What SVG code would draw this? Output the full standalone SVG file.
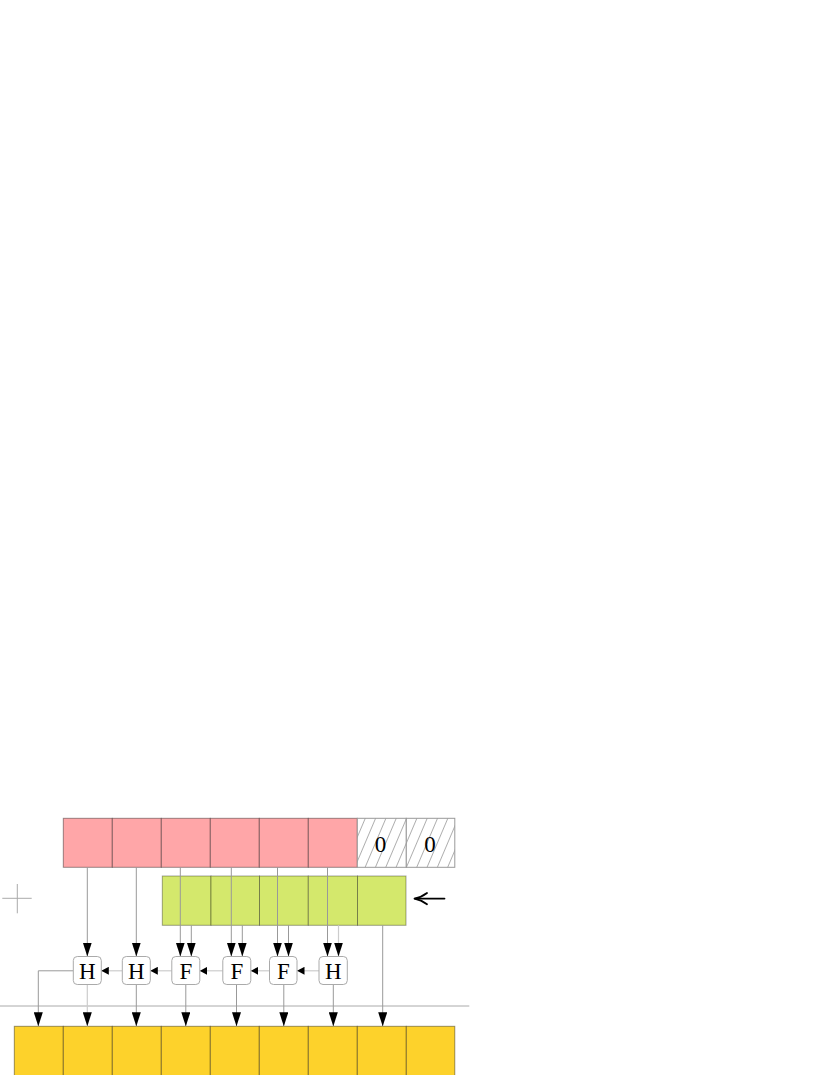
<svg xmlns="http://www.w3.org/2000/svg" width="830" height="1075" viewBox="0 0 830 1075">
<style>
.red{fill:#FFA6A8;stroke:#000;stroke-opacity:0.4;stroke-width:1}
.grn{fill:#D4E86C;stroke:#000;stroke-opacity:0.35;stroke-width:1}
.yel{fill:#FDD22B;stroke:#000;stroke-opacity:0.4;stroke-width:1}
.hat{fill:url(#hatch);stroke:#999;stroke-width:1}
.node rect{fill:#fff;stroke:#aaa;stroke-width:1}
.lbl{font-family:"Liberation Serif","DejaVu Serif",serif;font-size:23px;fill:#000;text-anchor:middle}
.c{fill:none;stroke:#999;stroke-width:1}
.cl{fill:none;stroke:#ccc;stroke-width:1.2}
.v{marker-end:url(#ahv)}
.h{marker-end:url(#ahh)}
</style>
<defs>
<pattern id="hatch" patternUnits="userSpaceOnUse" width="9.5" height="9.5" patternTransform="rotate(23)">
<rect width="9.5" height="9.5" fill="#fff"/>
<line x1="0" y1="0" x2="0" y2="9.5" stroke="#555" stroke-width="0.9"/>
</pattern>
<marker id="ahv" markerUnits="userSpaceOnUse" markerWidth="14" markerHeight="9" refX="14" refY="4.5" orient="auto">
<path d="M0,0 L14,4.5 L0,9 z" fill="#000"/>
</marker>
<marker id="ahh" markerUnits="userSpaceOnUse" markerWidth="7.5" markerHeight="8" refX="7.5" refY="4" orient="auto">
<path d="M0,0 L7.5,4 L0,8 z" fill="#000"/>
</marker>
</defs>
<rect width="830" height="1075" fill="#fff"/>

<g id="cross" stroke="#aaa" stroke-width="1">
<line x1="2.3" y1="898.3" x2="31.7" y2="898.3"/>
<line x1="17.3" y1="884" x2="17.3" y2="913.3"/>
</g>
<line id="separator" x1="0" y1="1006" x2="469.3" y2="1006" stroke="#aaa" stroke-width="1"/>

<g id="row-a">
<rect class="red" x="63.3" y="818.3" width="49" height="49"/>
<rect class="red" x="112.3" y="818.3" width="49" height="49"/>
<rect class="red" x="161.3" y="818.3" width="49" height="49"/>
<rect class="red" x="210.3" y="818.3" width="49" height="49"/>
<rect class="red" x="259.3" y="818.3" width="49" height="49"/>
<rect class="red" x="308.3" y="818.3" width="49" height="49"/>
<rect class="hat" x="357.3" y="818.3" width="49" height="49"/>
<rect class="hat" x="406.3" y="818.3" width="48.5" height="49"/>
<text class="lbl" x="380.5" y="852">0</text>
<text class="lbl" x="430" y="852">0</text>
</g>

<g id="row-b">
<rect class="grn" x="162.3" y="876" width="48.7" height="49.3"/>
<rect class="grn" x="211" y="876" width="48.5" height="49.3"/>
<rect class="grn" x="259.5" y="876" width="48.8" height="49.3"/>
<rect class="grn" x="308.3" y="876" width="49.2" height="49.3"/>
<rect class="grn" x="357.5" y="876" width="48.5" height="49.3"/>
</g>

<g id="shift-arrow" fill="none" stroke="#000" stroke-width="1.8" stroke-linecap="round">
<path d="M444.5,898.6 H414.5"/>
<path d="M427,893 Q421,897.5 414.5,898.6 Q421,899.8 427,904.2"/>
</g>

<g id="row-c">
<rect class="yel" x="14.3" y="1026.3" width="49" height="50"/>
<rect class="yel" x="63.3" y="1026.3" width="49" height="50"/>
<rect class="yel" x="112.3" y="1026.3" width="49" height="50"/>
<rect class="yel" x="161.3" y="1026.3" width="49" height="50"/>
<rect class="yel" x="210.3" y="1026.3" width="49" height="50"/>
<rect class="yel" x="259.3" y="1026.3" width="49" height="50"/>
<rect class="yel" x="308.3" y="1026.3" width="49" height="50"/>
<rect class="yel" x="357.3" y="1026.3" width="49" height="50"/>
<rect class="yel" x="406.3" y="1026.3" width="48.5" height="50"/>
</g>

<g id="connectors">
<line class="c v" x1="87.3" y1="867.3" x2="87.3" y2="956.5"/>
<line class="c v" x1="136.3" y1="867.3" x2="136.3" y2="956.5"/>
<line class="c v" x1="180.3" y1="867.3" x2="180.3" y2="956.5"/>
<line class="c v" x1="231.3" y1="867.3" x2="231.3" y2="956.5"/>
<line class="c v" x1="277.5" y1="867.3" x2="277.5" y2="956.5"/>
<line class="c v" x1="327.5" y1="867.3" x2="327.5" y2="956.5"/>
<line class="c v" x1="191.3" y1="925.3" x2="191.3" y2="956.5"/>
<line class="c v" x1="242.3" y1="925.3" x2="242.3" y2="956.5"/>
<line class="c v" x1="288.5" y1="925.3" x2="288.5" y2="956.5"/>
<line class="cl v" x1="338.5" y1="925.3" x2="338.5" y2="956.5"/>
<line class="cl h" x1="319" y1="970.8" x2="297" y2="970.8"/>
<line class="cl h" x1="269.5" y1="970.8" x2="250.8" y2="970.8"/>
<line class="cl h" x1="222.8" y1="970.8" x2="199.8" y2="970.8"/>
<line class="cl h" x1="171.8" y1="970.8" x2="150.3" y2="970.8"/>
<line class="cl h" x1="122.3" y1="970.8" x2="101.3" y2="970.8"/>
<path class="c v" d="M73.3,970.8 H38.3 V1026.3"/>
<line class="cl v" x1="87.3" y1="984.5" x2="87.3" y2="1026.3"/>
<line class="c v" x1="136.3" y1="984.5" x2="136.3" y2="1026.3"/>
<line class="c v" x1="185.8" y1="984.5" x2="185.8" y2="1026.3"/>
<line class="c v" x1="236.5" y1="984.5" x2="236.5" y2="1026.3"/>
<line class="c v" x1="283.8" y1="984.5" x2="283.8" y2="1026.3"/>
<line class="c v" x1="333.3" y1="984.5" x2="333.3" y2="1026.3"/>
<line class="c v" x1="382.7" y1="925.3" x2="382.7" y2="1026.3"/>
</g>

<g id="n1" class="node"><rect x="73.3" y="956.5" width="28" height="28" rx="4"/><text class="lbl" x="87.3" y="978.5">H</text></g>
<g id="n2" class="node"><rect x="122.3" y="956.5" width="28" height="28" rx="4"/><text class="lbl" x="136.3" y="978.5">H</text></g>
<g id="n3" class="node"><rect x="171.8" y="956.5" width="28" height="28" rx="4"/><text class="lbl" x="185.8" y="978.5">F</text></g>
<g id="n4" class="node"><rect x="222.8" y="956.5" width="28" height="28" rx="4"/><text class="lbl" x="236.8" y="978.5">F</text></g>
<g id="n5" class="node"><rect x="269.5" y="956.5" width="27.5" height="28" rx="4"/><text class="lbl" x="283.3" y="978.5">F</text></g>
<g id="n6" class="node"><rect x="319" y="956.5" width="28.3" height="28" rx="4"/><text class="lbl" x="333.2" y="978.5">H</text></g>
</svg>
